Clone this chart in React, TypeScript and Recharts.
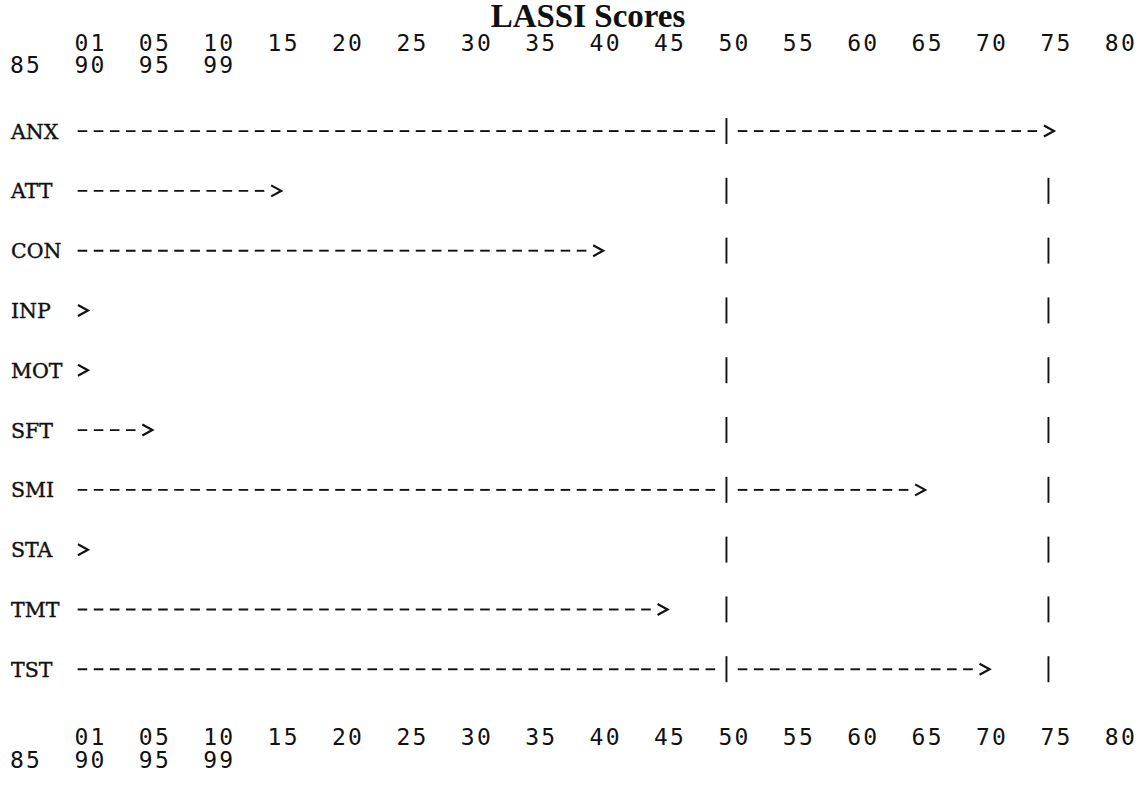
import React from 'react';
import { ComposedChart, Bar, Scatter, XAxis, YAxis } from 'recharts';

// ---- data ----
const TICK_LABELS = ['01', '05', '10', '15', '20', '25', '30', '35', '40', '45', '50', '55', '60', '65', '70', '75', '80', '85', '90', '95', '99'];
const SCALES = ['ANX', 'ATT', 'CON', 'INP', 'MOT', 'SFT', 'SMI', 'STA', 'TMT', 'TST'];
const PERCENTILES = ['75', '15', '40', '01', '01', '05', '65', '01', '45', '70'];
const MARKER_LABELS = ['50', '75'];
const TITLE = 'LASSI Scores';

// ---- layout ----
const W = 1140;
const H = 799;
const CW = 16.1; // one character cell
const STEP = 4 * CW; // one tick step = 4 characters
const LEFT_PAD = 10;
const Y_AXIS_W = 4 * CW;
const WRAP_AFTER = 16; // last tick label index on the first printed line
const DOMAIN_MAX = 16.5;
const ROW_H = 59.8;
const FIRST_ROW = 131;
const PLOT_TOP = FIRST_ROW - ROW_H / 2;
const PLOT_BOTTOM = PLOT_TOP + ROW_H * SCALES.length;
const PLOT_W = DOMAIN_MAX * STEP;
const RIGHT_MARGIN = W - LEFT_PAD - Y_AXIS_W - PLOT_W;
const TOP_BASELINES = [51, 73];
const BOTTOM_BASELINES = [745.4, 768.4];
const CELL = 0.25; // one character in tick-index units
const INK = '#111';

const rows = SCALES.map((name, i) => {
  const idx = TICK_LABELS.indexOf(PERCENTILES[i]);
  return { name, score: PERCENTILES[i], idx, end: idx + CELL };
});
const markerIdx = MARKER_LABELS.map((l) => TICK_LABELS.indexOf(l));
const markers = rows.flatMap((r) =>
  markerIdx.filter((m) => m !== r.idx).map((m) => ({ name: r.name, pos: m + CELL / 2 }))
);
const tickValues = TICK_LABELS.map((_, i) => i);

const DashArrow = (props: any) => {
  const { x, y, width, height } = props;
  if (x == null || width == null) return null;
  const cy = y + height / 2;
  const n = Math.max(1, Math.round(width / CW));
  const cw = width / n;
  const parts: any[] = [];
  for (let k = 0; k < n - 1; k++) {
    const c = x + k * cw + cw / 2;
    parts.push(<line key={k} x1={c - 4.8} x2={c + 4.8} y1={cy} y2={cy} stroke={INK} strokeWidth={1.9} />);
  }
  const ac = x + (n - 0.5) * cw;
  parts.push(
    <polyline
      key="arrow"
      points={`${ac - 4.5},${cy - 5.5} ${ac + 5.5},${cy} ${ac - 4.5},${cy + 5.5}`}
      fill="none"
      stroke={INK}
      strokeWidth={2.2}
    />
  );
  return <g>{parts}</g>;
};

const Marker = (props: any) => {
  const { cx, cy } = props;
  if (cx == null || cy == null) return null;
  return (
    <g>
      <rect x={cx - 6} y={cy - 4} width={12} height={8} fill="#fff" />
      <line x1={cx} x2={cx} y1={cy - 13} y2={cy + 13} stroke={INK} strokeWidth={1.9} />
    </g>
  );
};

const RowLabel = (props: any) => {
  const { x, y, payload } = props;
  return (
    <text
      x={x - Y_AXIS_W + 1}
      y={y + 7.5}
      textAnchor="start"
      fontFamily="'DejaVu Serif', serif"
      fontSize={20.5}
      fill={INK}
      stroke={INK}
      strokeWidth={0.4}
    >
      {payload.value}
    </text>
  );
};

const makeTick = (baselines: number[]) => (props: any) => {
  const { x, payload } = props;
  const i = payload.value as number;
  const wrapped = i > WRAP_AFTER;
  const tx = wrapped ? x - (WRAP_AFTER + 2) * STEP : x;
  return (
    <text
      x={tx}
      y={baselines[wrapped ? 1 : 0]}
      textAnchor="start"
      fontFamily="'DejaVu Sans Mono', monospace"
      fontSize={23}
      letterSpacing={CW - 23 * 0.602}
      fill={INK}
    >
      {TICK_LABELS[i]}
    </text>
  );
};
const TopTick = makeTick(TOP_BASELINES);
const BottomTick = makeTick(BOTTOM_BASELINES);

export default function App() {
  return (
    <div style={{ position: 'absolute', left: 0, top: 0, width: W, height: H, background: '#fff' }}>
      <div
        style={{
          position: 'absolute',
          left: 0,
          top: 0,
          width: 1176,
          textAlign: 'center',
          fontFamily: "'Liberation Serif', serif",
          fontWeight: 'bold',
          fontSize: 33,
          lineHeight: '33px',
          color: INK,
        }}
      >
        {TITLE}
      </div>
      <ComposedChart
        width={W}
        height={H}
        layout="vertical"
        data={rows}
        margin={{ top: 0, right: RIGHT_MARGIN, bottom: 0, left: LEFT_PAD }}
      >
        <XAxis
          xAxisId="top"
          orientation="top"
          type="number"
          domain={[0, DOMAIN_MAX]}
          allowDataOverflow
          ticks={tickValues}
          interval={0}
          height={PLOT_TOP}
          axisLine={false}
          tickLine={false}
          tickSize={0}
          tick={TopTick}
        />
        <XAxis
          xAxisId="bottom"
          orientation="bottom"
          type="number"
          domain={[0, DOMAIN_MAX]}
          allowDataOverflow
          ticks={tickValues}
          interval={0}
          height={H - PLOT_BOTTOM}
          axisLine={false}
          tickLine={false}
          tickSize={0}
          tick={BottomTick}
        />
        <YAxis
          type="category"
          dataKey="name"
          width={Y_AXIS_W}
          axisLine={false}
          tickLine={false}
          tickSize={0}
          tickMargin={0}
          interval={0}
          allowDuplicatedCategory={false}
          tick={RowLabel}
        />
        <Bar xAxisId="top" dataKey="end" shape={DashArrow} isAnimationActive={false} />
        <Scatter xAxisId="top" data={markers} dataKey="pos" shape={Marker} isAnimationActive={false} />
      </ComposedChart>
    </div>
  );
}
